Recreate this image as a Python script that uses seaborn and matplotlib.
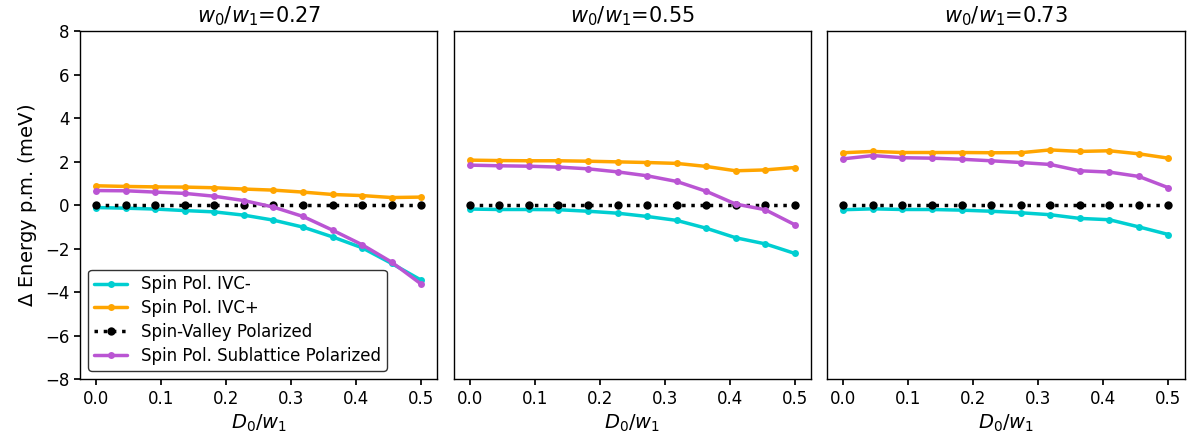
import numpy as np
import pandas as pd
import matplotlib
matplotlib.use("Agg")
import matplotlib.pyplot as plt
import seaborn as sns

# x grid: D0/w1
d0 = [0.0, 0.0455, 0.0909, 0.1364, 0.1818, 0.2273, 0.2727, 0.3182, 0.3636, 0.4091, 0.4545, 0.5]
ratios = ["0.27", "0.55", "0.73"]

ivc_minus = [
    [-0.11, -0.14, -0.18, -0.25, -0.31, -0.46, -0.69, -1.01, -1.46, -1.96, -2.68, -3.45],
    [-0.18, -0.20, -0.20, -0.21, -0.28, -0.37, -0.52, -0.70, -1.06, -1.50, -1.78, -2.22],
    [-0.21, -0.17, -0.20, -0.20, -0.23, -0.28, -0.35, -0.44, -0.61, -0.67, -1.00, -1.35],
]
ivc_plus = [
    [0.89, 0.86, 0.84, 0.83, 0.80, 0.74, 0.69, 0.60, 0.49, 0.44, 0.35, 0.37],
    [2.07, 2.05, 2.04, 2.04, 2.02, 1.99, 1.96, 1.92, 1.78, 1.58, 1.62, 1.73],
    [2.41, 2.47, 2.42, 2.42, 2.42, 2.41, 2.41, 2.54, 2.47, 2.50, 2.36, 2.16],
]
svp = [
    [0.0] * 12,
    [0.0] * 12,
    [0.0] * 12,
]
sublattice = [
    [0.67, 0.66, 0.60, 0.54, 0.41, 0.21, -0.09, -0.52, -1.15, -1.82, -2.62, -3.63],
    [1.84, 1.81, 1.79, 1.75, 1.67, 1.53, 1.35, 1.09, 0.64, 0.05, -0.21, -0.90],
    [2.13, 2.28, 2.18, 2.16, 2.11, 2.04, 1.96, 1.87, 1.58, 1.52, 1.32, 0.80],
]

series = [
    ("Spin Pol. IVC-", ivc_minus, "darkturquoise", "-", 5),
    ("Spin Pol. IVC+", ivc_plus, "orange", "-", 5),
    ("Spin-Valley Polarized", svp, "black", ":", 6),
    ("Spin Pol. Sublattice Polarized", sublattice, "mediumorchid", "-", 5),
]

sns.set_theme(style="ticks")
plt.rcParams["font.family"] = ["DejaVu Sans"]
plt.rcParams["mathtext.fontset"] = "dejavusans"
plt.rcParams["text.color"] = "black"
plt.rcParams["axes.labelcolor"] = "black"
plt.rcParams["xtick.color"] = "black"
plt.rcParams["ytick.color"] = "black"

fig, axes = plt.subplots(1, 3, figsize=(11.93, 4.45), dpi=100, sharey=True)
fig.subplots_adjust(left=0.067, right=0.993, top=0.930, bottom=0.148, wspace=0.045)

for i, ax in enumerate(axes):
    for name, vals, color, ls, ms in series:
        df = pd.DataFrame({"x": d0, "y": vals[i]})
        sns.lineplot(data=df, x="x", y="y", ax=ax, color=color, linestyle=ls,
                     linewidth=2.5, marker="o", markersize=ms, markeredgewidth=0,
                     label=name if i == 0 else None)
    ax.set_ylim(-8, 8)
    ax.set_yticks([-8, -6, -4, -2, 0, 2, 4, 6, 8])
    ax.set_xticks([0.0, 0.1, 0.2, 0.3, 0.4, 0.5])
    ax.set_xlabel(r"$D_0/w_1$", fontsize=14)
    ax.set_title(r"$w_0/w_1$=" + ratios[i], fontsize=15, color="black")
    ax.tick_params(labelsize=12, length=4, color="black")
    for sp in ax.spines.values():
        sp.set_color("black")
        sp.set_linewidth(1.0)
    if i == 0:
        ax.set_ylabel(r"$\Delta$ Energy p.m. (meV)", fontsize=14)
    else:
        ax.set_ylabel("")
        ax.tick_params(left=False)
        if ax.get_legend() is not None:
            ax.get_legend().remove()

leg = axes[0].legend(loc="lower left", fontsize=12, frameon=True, borderpad=0.35,
                     labelspacing=0.35)
leg.get_frame().set_edgecolor("black")
leg.get_frame().set_linewidth(1.0)

fig.savefig("out.png", dpi=100)
